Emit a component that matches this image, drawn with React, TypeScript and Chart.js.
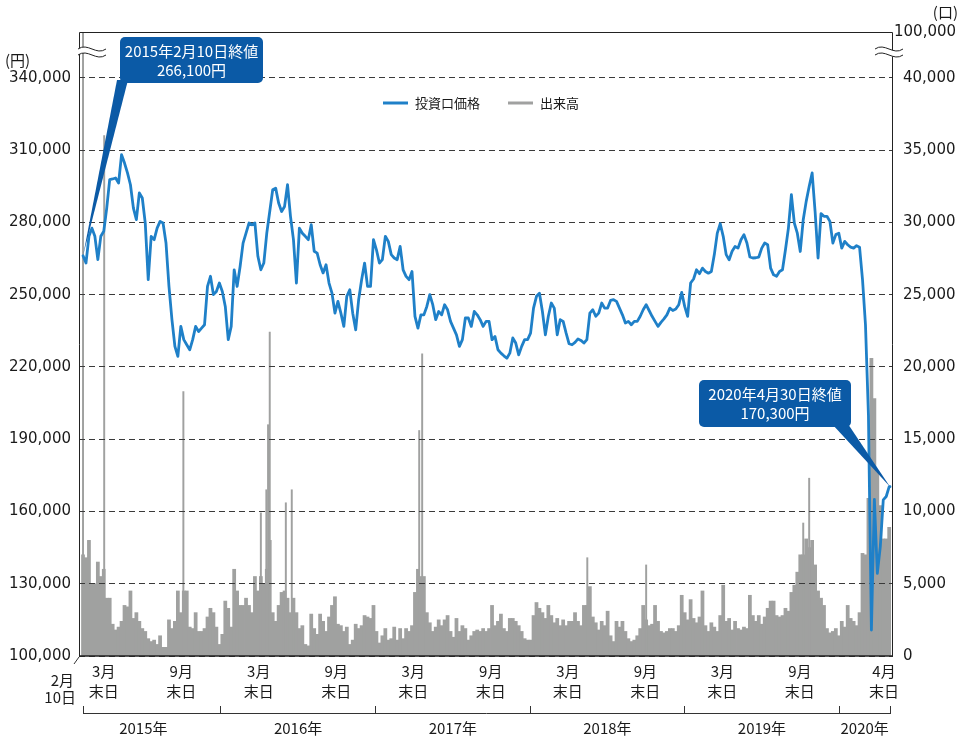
import React, { useEffect, useRef } from "react";
import { Chart, registerables } from "chart.js";

Chart.register(...registerables);

const FONT = '"Noto Sans CJK JP", "Noto Sans", sans-serif';
const NUM_FONT = '"DejaVu Sans", "Noto Sans CJK JP", sans-serif';
const TEXT = "#1a1a1a";
const GRID = "#3a3a3a";
const BLUE = "#1f80c8";
const GRAY = "#a0a1a0";
const NAVY = "#0b5aa6";

// 2015年2月10日から7日ごとの終値（千円）
const weeklyCloseK = [
  266.1, 263.1, 274.2, 277.6, 274.2, 264.5, 274.2, 276.3, 285.9, 297.7,
  298.0, 298.4, 296.3, 308.1, 304.6, 300.5, 295.6, 285.9, 281.1, 292.2,
  290.1, 279.7, 256.2, 274.2, 272.8, 277.6, 280.4, 279.7, 271.4, 253.4,
  239.6, 228.5, 224.4, 236.8, 231.3, 229.2, 227.1, 231.3, 236.8, 234.7,
  236.1, 237.5, 253.4, 257.6, 250.0, 251.3, 254.8, 251.3, 245.1, 231.3,
  236.8, 260.3, 253.4, 261.7, 271.4, 275.5, 279.7, 279.0, 279.7, 265.9,
  260.3, 263.1, 275.5, 284.5, 293.5, 294.2, 288.0, 284.5, 286.6, 295.6,
  282.5, 272.8, 254.8, 277.6, 275.5, 274.2, 272.8, 279.0, 268.0, 267.2,
  262.4, 259.0, 262.4, 254.8, 250.6, 242.3, 247.2, 242.3, 236.8, 249.3,
  252.0, 242.3, 235.4, 247.9, 256.2, 263.1, 253.4, 253.4, 272.8, 268.6,
  263.1, 264.5, 274.2, 272.1, 266.6, 265.2, 264.5, 270.0, 260.3, 257.6,
  256.2, 259.6, 241.0, 236.1, 241.6, 241.6, 245.1, 250.0, 245.8, 239.6,
  243.0, 241.6, 245.8, 243.7, 238.9, 236.1, 233.3, 228.5, 231.3, 240.3,
  240.3, 236.8, 243.0, 241.6, 239.6, 236.8, 238.9, 238.9, 231.3, 232.6,
  227.1, 225.7, 224.6, 223.6, 225.7, 232.0, 229.9, 225.0, 228.5, 231.3,
  231.3, 234.0, 244.4, 249.3, 250.6, 243.0, 233.3, 241.0, 246.5, 244.4,
  233.3, 239.6, 238.9, 234.0, 229.6, 229.2, 230.2, 231.6, 231.0, 229.9,
  231.3, 242.3, 243.7, 241.0, 242.3, 246.5, 244.4, 244.4, 247.6, 247.9,
  247.2, 244.4, 241.6, 238.2, 238.9, 237.5, 238.9, 238.9, 241.0, 243.7,
  245.8, 243.4, 241.0, 238.9, 236.8, 238.5, 239.9, 241.6, 244.4, 243.4,
  244.0, 245.8, 250.9, 245.1, 241.0, 254.8, 256.5, 260.3, 258.7, 261.0,
  259.6, 258.9, 259.6, 266.6, 275.5, 279.4, 274.2, 266.6, 264.5, 268.0,
  270.0, 269.3, 272.8, 274.9, 271.4, 265.6, 265.2, 265.3, 265.6, 269.3,
  271.4, 270.7, 261.0, 258.2, 257.6, 259.6, 260.3, 268.6, 277.6, 291.5,
  279.7, 275.5, 267.9, 281.1, 288.7, 294.9, 300.5, 284.5, 265.2, 283.6,
  282.5, 282.5, 280.4, 271.4, 274.9, 275.5, 269.3, 272.1, 270.7, 269.7,
  269.3, 270.3, 269.7, 256.2, 237.5, 200.0, 110.8, 165.0, 134.3, 145.4,
  164.8, 166.2, 170.3,
];

// 同じ週ごとの通常の出来高水準（口）
const weeklyVolume = [
  7000, 6800, 8000, 5000, 5000, 6500, 5500, 6000, 4000, 4000,
  2200, 1800, 2000, 2400, 3500, 3400, 4500, 2600, 3000, 2400,
  1900, 1700, 1200, 1000, 1100, 800, 1400, 600, 600, 2500,
  1900, 2400, 4500, 3000, 4500, 4500, 2000, 1900, 3000, 1700,
  1700, 1900, 2700, 3300, 3000, 2000, 800, 1500, 3800, 3300,
  2000, 6000, 4500, 3500, 3500, 4000, 3500, 3000, 5500, 4500,
  5500, 5000, 6000, 8000, 3000, 2400, 3500, 4400, 4500, 4000,
  3000, 4000, 3000, 1900, 2100, 800, 700, 2900, 1900, 1500,
  2900, 2400, 1700, 2700, 3500, 4100, 2200, 2100, 1700, 2000,
  800, 1100, 2200, 1900, 2100, 2800, 2700, 2600, 3500, 1700,
  900, 1400, 1900, 1100, 1200, 2000, 1100, 1900, 1200, 1900,
  1700, 2100, 4400, 6000, 5500, 5500, 3000, 2300, 1700, 2000,
  2500, 2100, 2500, 2800, 1700, 1300, 2600, 1700, 2100, 1900,
  1100, 1400, 1700, 1800, 1700, 1900, 1700, 1900, 3500, 2100,
  2400, 2900, 1900, 1700, 2600, 2600, 2400, 2100, 1700, 1200,
  1100, 1100, 2800, 3700, 3300, 3000, 2600, 3500, 2800, 2300,
  2600, 2100, 2500, 2100, 2400, 2400, 3000, 2400, 2100, 3500,
  3500, 4800, 2700, 2300, 1800, 2400, 2100, 3100, 1400, 1000,
  2400, 2000, 2400, 1700, 1200, 1000, 1100, 1400, 1900, 3500,
  2500, 2100, 2200, 3500, 2400, 1700, 1600, 1700, 1900, 1900,
  1700, 2100, 4200, 3000, 2500, 3900, 2600, 2300, 2700, 4500,
  2100, 1700, 2300, 2000, 1700, 2800, 4900, 2400, 2600, 1800,
  2400, 1900, 1800, 2000, 1900, 4200, 2800, 2400, 2800, 2200,
  2700, 3300, 3800, 3800, 2800, 2700, 2800, 3300, 3100, 4400,
  4900, 5800, 7000, 7000, 8100, 7500, 8000, 6300, 4500, 4000,
  3500, 1900, 1600, 1700, 1900, 1400, 2400, 2000, 3500, 2600,
  2400, 2100, 3000, 7100, 7000, 10900, 20600, 17800, 12700, 10400,
  8100, 8100, 8900,
];

// 出来高が突出した日（口）
const spikeDates = [
  "2015-02-10", "2015-04-01", "2015-10-05", "2016-04-05", "2016-04-18",
  "2016-04-22", "2016-04-26", "2016-06-03", "2016-06-17", "2017-04-14",
  "2017-04-21", "2018-05-16", "2018-10-02", "2019-10-08", "2019-10-22",
];
const spikeVolumes = [
  95000, 36000, 18300, 9900, 11500,
  16000, 22400, 10600, 11500, 15600,
  20900, 6800, 6300, 9200, 12300,
];

const firstDate = "2015-02-10";
const lastDate = "2020-04-30";
const firstClose = 266100;
const lastClose = 170300;

const leftTicks = [100000, 130000, 160000, 190000, 220000, 250000, 280000, 310000, 340000];
const rightTicks = [0, 5000, 10000, 15000, 20000, 25000, 30000, 35000, 40000];
const leftMax = 359000;
const rightMax = 259000 / 6;
const rightTopLabel = "100,000";

const monthEndDates = [
  "2015-03-31", "2015-09-30", "2016-03-31", "2016-09-30", "2017-03-31",
  "2017-09-30", "2018-03-31", "2018-09-30", "2019-03-31", "2019-09-30", "2020-04-30",
];
const monthEndLabels = ["3月", "9月", "3月", "9月", "3月", "9月", "3月", "9月", "3月", "9月", "4月"];
const yearLabels = ["2015年", "2016年", "2017年", "2018年", "2019年", "2020年"];
const yearStarts = ["2015-01-01", "2016-01-01", "2017-01-01", "2018-01-01", "2019-01-01", "2020-01-01"];
const yearEnds = ["2016-01-01", "2017-01-01", "2018-01-01", "2019-01-01", "2020-01-01", "2020-04-30"];

const legendItems = [
  { label: "投資口価格", color: BLUE },
  { label: "出来高", color: GRAY },
];

const T0 = Date.parse(firstDate + "T00:00:00Z");
const dayOf = (s: string) => (Date.parse(s + "T00:00:00Z") - T0) / 86400000;
const fmt = (v: number) => v.toLocaleString("en-US");

const alignPx = (p: number) => Math.round(p - 0.5) + 0.5;

const decor = {
  id: "decor",
  beforeDatasetDraw(chart: any, args: any) {
    const ds = chart.data.datasets[args.index];
    if (ds.type !== "line") return;
    const { ctx, chartArea: a, scales } = chart;
    ctx.save();
    ctx.strokeStyle = GRID;
    ctx.lineWidth = 1;
    ctx.setLineDash([6, 4]);
    leftTicks.slice(1).forEach((v) => {
      const y = alignPx(scales.yP.getPixelForValue(v));
      ctx.beginPath();
      ctx.moveTo(a.left, y);
      ctx.lineTo(a.right, y);
      ctx.stroke();
    });
    ctx.restore();
  },
  afterDraw(chart: any) {
    const { ctx, chartArea: a, scales } = chart;
    const xs = scales.x;
    const yP = scales.yP;
    ctx.save();
    // frame
    ctx.strokeStyle = "#222";
    ctx.lineWidth = 1;
    ctx.beginPath();
    ctx.moveTo(a.left + 0.5, a.bottom);
    ctx.lineTo(a.left + 0.5, a.top + 0.5);
    ctx.lineTo(a.right - 0.5, a.top + 0.5);
    ctx.lineTo(a.right - 0.5, a.bottom);
    ctx.stroke();
    ctx.lineWidth = 1.6;
    ctx.beginPath();
    ctx.moveTo(a.left, a.bottom);
    ctx.lineTo(a.right, a.bottom);
    ctx.stroke();

    // axis break marks
    const brk = (x0: number, x1: number, yc: number) => {
      const w = x1 - x0;
      ctx.fillStyle = "#fff";
      ctx.beginPath();
      ctx.moveTo(x0, yc - 3);
      ctx.bezierCurveTo(x0 + w * 0.35, yc - 10, x0 + w * 0.65, yc + 4, x1, yc - 3);
      ctx.lineTo(x1, yc + 3);
      ctx.bezierCurveTo(x0 + w * 0.65, yc + 10, x0 + w * 0.35, yc - 4, x0, yc + 3);
      ctx.closePath();
      ctx.fill();
      ctx.strokeStyle = "#222";
      ctx.lineWidth = 1;
      [yc - 3, yc + 3].forEach((y) => {
        ctx.beginPath();
        ctx.moveTo(x0, y);
        ctx.bezierCurveTo(x0 + w * 0.35, y - 7, x0 + w * 0.65, y + 7, x1, y);
        ctx.stroke();
      });
    };
    brk(a.left - 1, a.left + 27, 52);
    brk(a.right - 18, a.right + 10, 52);

    // unit labels
    ctx.fillStyle = TEXT;
    ctx.textBaseline = "middle";
    ctx.font = `15px ${FONT}`;
    ctx.textAlign = "left";
    ctx.fillText("(円)", 5, 60);
    ctx.textAlign = "right";
    ctx.fillText("(口)", 958, 12);
    ctx.textAlign = "left";
    ctx.font = `15px ${NUM_FONT}`;
    ctx.fillText(rightTopLabel, a.right + 1, a.top);

    // legend
    ctx.font = `13px ${FONT}`;
    let lx = 383;
    legendItems.forEach((it) => {
      ctx.strokeStyle = it.color;
      ctx.lineWidth = 3;
      ctx.beginPath();
      ctx.moveTo(lx, 103);
      ctx.lineTo(lx + 25, 103);
      ctx.stroke();
      ctx.fillStyle = TEXT;
      ctx.textAlign = "left";
      ctx.fillText(it.label, lx + 32, 103);
      lx += 32 + ctx.measureText(it.label).width + 28;
    });

    // callouts
    const callout = (box: number[], base: number[], apex: number[], lines: string[]) => {
      ctx.fillStyle = NAVY;
      ctx.beginPath();
      ctx.moveTo(base[0], base[1]);
      ctx.lineTo(apex[0], apex[1]);
      ctx.lineTo(base[2], base[3]);
      ctx.closePath();
      ctx.fill();
      ctx.beginPath();
      ctx.roundRect(box[0], box[1], box[2], box[3], 5);
      ctx.fill();
      ctx.fillStyle = "#fff";
      ctx.font = `15px ${FONT}`;
      ctx.textAlign = "center";
      ctx.fillText(lines[0], box[0] + box[2] / 2, box[1] + 14);
      ctx.fillText(lines[1], box[0] + box[2] / 2, box[1] + 33);
    };
    const p1 = [xs.getPixelForValue(dayOf(firstDate)), yP.getPixelForValue(firstClose)];
    const p2 = [xs.getPixelForValue(dayOf(lastDate)), yP.getPixelForValue(lastClose)];
    callout([120, 37, 143, 46], [117, 80, 128, 80], p1, ["2015年2月10日終値", fmt(firstClose) + "円"]);
    callout([699, 380, 152, 47], [832, 424, 848, 424], p2, ["2020年4月30日終値", fmt(lastClose) + "円"]);

    // x labels
    ctx.fillStyle = TEXT;
    ctx.font = `15px ${FONT}`;
    ctx.textAlign = "center";
    monthEndDates.forEach((d, i) => {
      let px = xs.getPixelForValue(dayOf(d));
      if (i === monthEndDates.length - 1) px -= 6;
      ctx.fillText(monthEndLabels[i], px, 671);
      ctx.fillText("末日", px, 691);
    });
    ctx.textAlign = "right";
    ctx.fillText("2月", 74, 680);
    ctx.fillText("10日", 76, 697);
    ctx.strokeStyle = "#333";
    ctx.lineWidth = 1;
    ctx.beginPath();
    ctx.moveTo(74, 664);
    ctx.lineTo(a.left, a.bottom + 1);
    ctx.stroke();

    // year bracket
    const xStart = xs.getPixelForValue(dayOf(firstDate));
    const xEnd = xs.getPixelForValue(dayOf(lastDate));
    ctx.beginPath();
    ctx.moveTo(xStart, 713.5);
    ctx.lineTo(xEnd, 713.5);
    const tickXs = [xStart, ...yearStarts.slice(1).map((d) => xs.getPixelForValue(dayOf(d))), xEnd];
    tickXs.forEach((tx) => {
      const px = alignPx(tx);
      ctx.moveTo(px, 706);
      ctx.lineTo(px, 714);
    });
    ctx.stroke();
    ctx.textAlign = "center";
    yearLabels.forEach((lab, i) => {
      const c = (xs.getPixelForValue(dayOf(yearStarts[i])) + xs.getPixelForValue(dayOf(yearEnds[i]))) / 2;
      ctx.fillText(lab, c, 728);
    });
    ctx.restore();
  },
};

export default function App() {
  const ref = useRef<HTMLCanvasElement>(null);
  useEffect(() => {
    document.body.style.margin = "0";
    const canvas = ref.current!;
    const priceData = weeklyCloseK.map((v, k) => ({ x: k * 7, y: Math.round(v * 1000) }));
    priceData.push({ x: dayOf(lastDate), y: lastClose });
    const volData = weeklyVolume.map((v, k) => ({ x: k * 7, y: v }));
    const spikeData = spikeDates.map((d, i) => ({ x: dayOf(d), y: spikeVolumes[i] }));

    const chart = new Chart(canvas, {
      type: "bar",
      data: {
        datasets: [
          {
            type: "line",
            label: "投資口価格",
            data: priceData,
            yAxisID: "yP",
            xAxisID: "x",
            borderColor: BLUE,
            borderWidth: 2.8,
            pointRadius: 0,
            tension: 0,
            borderJoinStyle: "round",
            borderCapStyle: "round",
            order: 0,
          } as any,
          {
            type: "bar",
            label: "出来高",
            data: volData,
            yAxisID: "yV",
            xAxisID: "x",
            backgroundColor: GRAY,
            borderWidth: 0,
            barThickness: 3.1,
            grouped: false,
            clip: 0,
            order: 2,
          } as any,
          {
            type: "bar",
            label: "出来高（突出日）",
            data: spikeData,
            yAxisID: "yV",
            xAxisID: "x",
            backgroundColor: GRAY,
            borderWidth: 0,
            barThickness: 1.3,
            grouped: false,
            clip: 0,
            order: 1,
          } as any,
        ],
      },
      options: {
        responsive: false,
        animation: false,
        devicePixelRatio: 1,
        layout: { padding: { top: 32, left: 0, right: 0, bottom: 0 } },
        plugins: { legend: { display: false }, tooltip: { enabled: false } },
        font: { family: FONT },
        scales: {
          x: {
            type: "linear",
            min: -9.5,
            max: 1913,
            offset: false,
            grid: { display: false, offset: false },
            border: { display: false },
            ticks: { display: false },
            afterFit: (s: any) => {
              s.height = 85;
            },
          },
          yP: {
            type: "linear",
            position: "left",
            min: leftTicks[0],
            max: leftMax,
            afterBuildTicks: (s: any) => {
              s.ticks = leftTicks.map((v) => ({ value: v }));
            },
            afterFit: (s: any) => {
              s.width = 79;
            },
            grid: { color: GRID, lineWidth: 1, drawTicks: false },
            border: { display: false, dash: [6, 4] },
            ticks: {
              padding: 8,
              color: TEXT,
              font: { size: 15, family: NUM_FONT },
              callback: (v: any) => fmt(Number(v)),
            },
          },
          yV: {
            type: "linear",
            position: "right",
            min: 0,
            max: rightMax,
            afterBuildTicks: (s: any) => {
              s.ticks = rightTicks.map((v) => ({ value: v }));
            },
            afterFit: (s: any) => {
              s.width = 78;
            },
            grid: { display: false, drawTicks: false },
            border: { display: false },
            ticks: {
              padding: 10,
              color: TEXT,
              font: { size: 15, family: NUM_FONT },
              callback: (v: any) => fmt(Number(v)),
            },
          },
        },
      } as any,
      plugins: [decor],
    });
    return () => chart.destroy();
  }, []);
  return (
    <div style={{ width: 971, height: 741 }}>
      <canvas ref={ref} width={971} height={741} style={{ display: "block" }} />
    </div>
  );
}
